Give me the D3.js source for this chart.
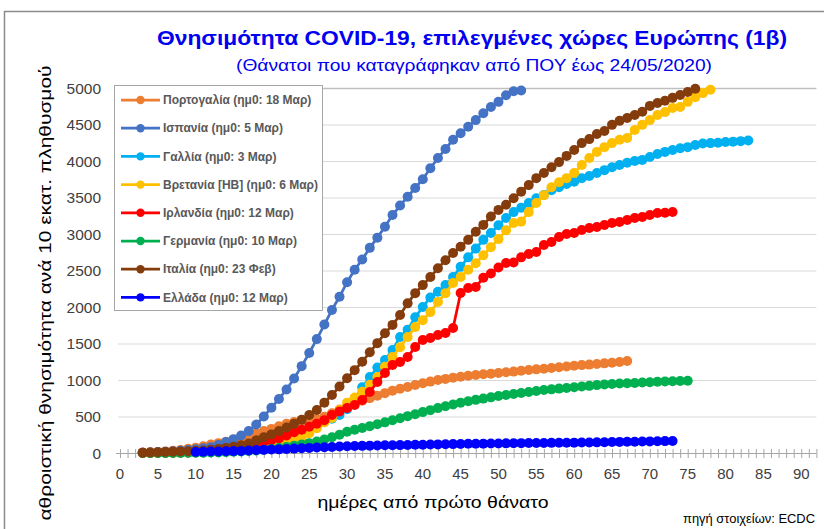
<!DOCTYPE html>
<html><head><meta charset="utf-8">
<script src="https://cdn.jsdelivr.net/npm/d3@7"></script>
<style>
body{margin:0;background:#fff;}
svg{display:block;font-family:"Liberation Sans",Arial,sans-serif;}
</style>
</head><body>
<svg id="chart" width="824" height="529"></svg>
<script>
// ---------- DATA ----------
const title = "Θνησιμότητα COVID-19, επιλεγμένες χώρες Ευρώπης (1β)";
const subtitle = "(Θάνατοι που καταγράφηκαν από ΠΟΥ έως 24/05/2020)";
const yTitle = "αθροιστική θνησιμότητα ανά 10 εκατ. πληθυσμού";
const xTitle = "ημέρες από πρώτο θάνατο";
const sourceText = "πηγή στοιχείων: ECDC";

const seriesNames = [
  "Πορτογαλία (ημ0: 18 Μαρ)",
  "Ισπανία (ημ0: 5 Μαρ)",
  "Γαλλία (ημ0: 3 Μαρ)",
  "Βρετανία [HB] (ημ0: 6 Μαρ)",
  "Ιρλανδία (ημ0: 12 Μαρ)",
  "Γερμανία (ημ0: 10 Μαρ)",
  "Ιταλία (ημ0: 23 Φεβ)",
  "Ελλάδα (ημ0: 12 Μαρ)"
];
const seriesColors = ["#ED7D31","#4472C4","#00B0F0","#FFC000","#FF0000","#00B050","#843C0C","#0000FF"];
const seriesStartDay = [3, 3, 3, 3, 3, 3, 3, 10];

const portugal = [5,10,14,22,32,42,58,72,92,115,
  135,155,180,205,235,270,300,330,365,400,
  425,440,450,465,497,545,595,644,680,715,
  749,785,820,854,880,905,932,955,978,1000,
  1015,1030,1045,1057,1068,1078,1087,1096,1105,1115,
  1126,1137,1146,1155,1164,1175,1186,1196,1204,1211,
  1219,1228,1237,1247,1260];
const spain = [5,8,12,17,25,30,40,50,65,80,
  110,150,190,240,300,390,500,620,740,870,
  1020,1190,1370,1560,1760,1960,2140,2340,2510,2650,
  2810,2950,3100,3260,3390,3510,3630,3750,3900,4040,
  4165,4290,4380,4470,4560,4655,4740,4810,4900,4955,
  4965];
const france = [1,1,2,2,3,4,6,9,12,16,
  22,28,35,45,60,80,100,125,160,195,
  235,285,330,380,430,470,520,600,740,900,
  1040,1170,1275,1410,1590,1690,1860,2000,2130,2210,
  2300,2410,2550,2680,2800,2920,3014,3120,3220,3300,
  3360,3425,3490,3535,3600,3640,3685,3715,3765,3795,
  3835,3875,3915,3945,3975,4000,4015,4055,4095,4125,
  4150,4175,4190,4220,4240,4245,4250,4260,4265,4272,
  4280];
const uk = [0,1,1,1,2,3,5,8,10,15,
  22,27,35,42,50,65,75,87,115,140,
  175,215,270,340,420,480,590,690,760,840,
  935,1040,1180,1315,1450,1590,1725,1820,1930,2070,
  2190,2330,2410,2510,2600,2710,2820,2930,3050,3150,
  3170,3300,3425,3530,3640,3710,3765,3835,3945,4040,
  4125,4190,4245,4290,4315,4425,4495,4560,4630,4670,
  4725,4740,4810,4875,4930,4975];
const ireland = [2,2,4,4,6,6,8,12,16,20,
  27,38,45,55,75,110,140,175,200,240,
  285,320,360,400,450,520,570,616,658,726,
  836,973,1096,1205,1247,1315,1452,1548,1575,1616,
  1644,1712,2192,2260,2274,2400,2460,2540,2603,2610,
  2680,2725,2753,2849,2890,2959,3000,3014,3055,3082,
  3096,3124,3151,3165,3192,3220,3233,3260,3288,3290,
  3302];
const germany = [0,0,1,1,1,2,3,4,5,7,
  9,12,16,21,27,35,44,55,68,82,
  98,115,135,158,185,215,250,290,318,342,
  368,395,420,448,475,505,532,560,587,615,
  640,665,690,710,728,745,762,780,795,808,
  822,836,850,862,872,882,891,900,910,920,
  930,938,945,951,956,960,965,970,975,979,
  983,986,990];
const italy = [5,7,10,13,17,20,25,30,35,45,
  55,70,85,105,130,175,215,255,300,350,
  400,455,520,590,690,795,910,1025,1135,1250,
  1380,1505,1640,1755,1890,2050,2190,2300,2410,2530,
  2640,2740,2825,2920,3030,3125,3240,3330,3400,3490,
  3580,3670,3765,3835,3915,3985,4070,4150,4245,4300,
  4370,4410,4495,4550,4590,4630,4675,4755,4795,4825,
  4865,4905,4945,4990];
const greece = [14,16,20,21,24,26,29,35,40,43,
  47,50,55,60,66,70,75,79,83,88,
  92,95,98,101,103,105,107,108,110,112,
  114,116,118,120,122,124,126,127,128,130,
  131,132,134,135,136,137,138,139,140,141,
  142,143,144,146,148,151,152,153,155,157,
  159,161,163,165];

const yTicks = [0,500,1000,1500,2000,2500,3000,3500,4000,4500,5000];
const xTicks = [0,5,10,15,20,25,30,35,40,45,50,55,60,65,70,75,80,85,90];

// ---------- BUILD ----------
const seriesValues = [portugal, spain, france, uk, ireland, germany, italy, greece];
const series = seriesNames.map((name,i)=>({
  name, color: seriesColors[i],
  points: seriesValues[i].map((v,j)=>({day: seriesStartDay[i]+j, value: v}))
}));

const svg = d3.select("#chart");
const x = d3.scaleLinear().domain([0,92]).range([120, 816.4]);
const y = d3.scaleLinear().domain([0,5000]).range([453, 88]);

// outer frame
svg.append("rect").attr("x",4.5).attr("y",11.5).attr("width",830).attr("height",530)
  .attr("fill","#fff").attr("stroke","#8c8c8c").attr("stroke-width",1.5);

// gridlines
svg.append("g").selectAll("line").data(yTicks.filter(d=>d>0)).join("line")
  .attr("x1",x(0)-2).attr("x2",x(92)).attr("y1",d=>y(d)+0.5).attr("y2",d=>y(d)+0.5)
  .attr("stroke",d=>d===5000?"#bfbfbf":"#d9d9d9").attr("stroke-width",d=>d===5000?1.5:1);

// y tick labels
svg.append("g").selectAll("text").data(yTicks).join("text")
  .attr("x",101).attr("y",d=>y(d)+5.5).attr("text-anchor","end")
  .attr("font-size",15.5).attr("fill","#404040").text(d=>d);

// x axis with minor ticks every day
const xAxis = d3.axisBottom(x).tickValues(d3.range(0,93)).tickSize(9).tickFormat("");
const gx = svg.append("g").attr("transform","translate(0,449)").call(xAxis);
gx.select(".domain").remove();
gx.selectAll(".tick line").attr("stroke","#a6a6a6");
svg.append("line").attr("x1",x(0)-4).attr("x2",x(92)).attr("y1",453.5).attr("y2",453.5)
  .attr("stroke","#a6a6a6").attr("stroke-width",1);

svg.append("g").selectAll("text").data(xTicks).join("text")
  .attr("x",d=>x(d)).attr("y",479).attr("text-anchor","middle")
  .attr("font-size",15).attr("fill","#404040").text(d=>d);

// series
const line = d3.line().x(d=>x(d.day)).y(d=>y(d.value));
const gs = svg.append("g");
series.forEach(s=>{
  const g = gs.append("g");
  g.append("path").datum(s.points).attr("d",line).attr("fill","none")
    .attr("stroke",s.color).attr("stroke-width",2.75);
  g.selectAll("circle").data(s.points).join("circle")
    .attr("cx",d=>x(d.day)).attr("cy",d=>y(d.value)).attr("r",5).attr("fill",s.color);
});

// titles
svg.append("text").attr("x",472).attr("y",45).attr("text-anchor","middle")
  .attr("font-size",20).attr("font-weight","bold").attr("fill","#0000F0")
  .attr("textLength",630).attr("lengthAdjust","spacingAndGlyphs").text(title);
svg.append("text").attr("x",474).attr("y",71).attr("text-anchor","middle")
  .attr("font-size",16).attr("fill","#0000F0")
  .attr("textLength",476).attr("lengthAdjust","spacingAndGlyphs").text(subtitle);
svg.append("text").attr("transform","translate(51,293) rotate(-90)").attr("text-anchor","middle")
  .attr("font-size",16).attr("fill","#000")
  .attr("textLength",455).attr("lengthAdjust","spacingAndGlyphs").text(yTitle);
svg.append("text").attr("x",433).attr("y",508).attr("text-anchor","middle")
  .attr("font-size",17).attr("fill","#000")
  .attr("textLength",231).attr("lengthAdjust","spacingAndGlyphs").text(xTitle);
svg.append("text").attr("x",815).attr("y",523).attr("text-anchor","end")
  .attr("font-size",12).attr("fill","#000")
  .attr("textLength",132).attr("lengthAdjust","spacingAndGlyphs").text(sourceText);

// legend
const lg = svg.append("g");
lg.append("rect").attr("x",114.5).attr("y",85.5).attr("width",208).attr("height",225)
  .attr("fill","#fff").attr("stroke","#a6a6a6").attr("stroke-width",1);
series.forEach((s,i)=>{
  const yy = 100 + i*28.2;
  lg.append("line").attr("x1",121).attr("x2",160).attr("y1",yy).attr("y2",yy)
    .attr("stroke",s.color).attr("stroke-width",2.75);
  lg.append("circle").attr("cx",140.5).attr("cy",yy).attr("r",4.2).attr("fill",s.color);
  lg.append("text").attr("x",163).attr("y",yy+4.2).attr("font-size",12).attr("font-weight","bold")
    .attr("fill","#595959").text(s.name);
});
</script>
</body></html>
